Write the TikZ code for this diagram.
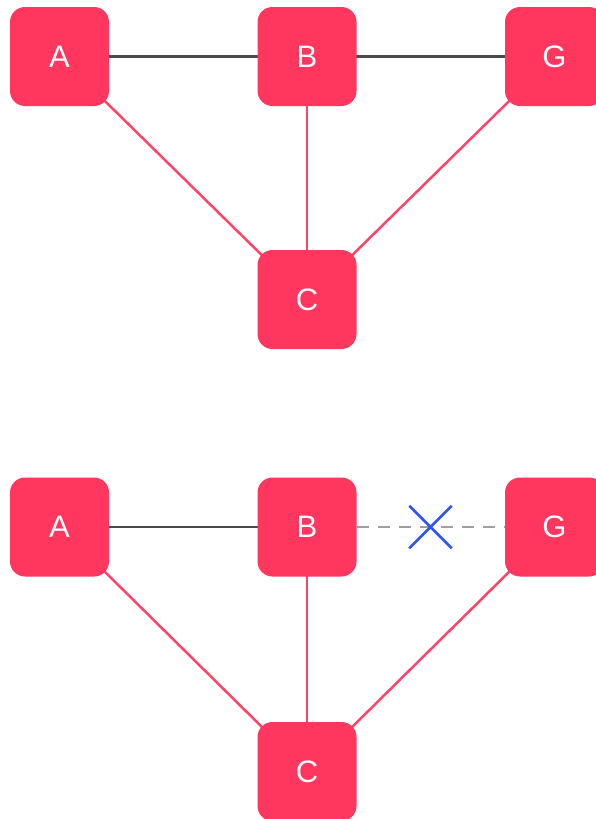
\documentclass[tikz,border=0pt]{standalone}
\usepackage{fontspec}
\setmainfont{Liberation Sans}
\usetikzlibrary{shapes.misc,backgrounds}
\definecolor{nodered}{HTML}{FF365E}
\definecolor{edgered}{HTML}{FF4468}
\definecolor{darkedge}{HTML}{4A4A4A}
\definecolor{dashgray}{HTML}{9E9E9E}
\definecolor{xblue}{HTML}{2F55F0}
\begin{document}
\begin{tikzpicture}[x=1pt,y=1pt,
  vertex/.style={fill=nodered, rounded corners=15pt, minimum width=99pt, minimum height=99pt, inner sep=0pt,
    text=white, font=\fontsize{31}{31}\selectfont},
  redge/.style={draw=edgered, line width=2.5pt},
  kedge/.style={draw=darkedge, line width=2.8pt},
  dedge/.style={draw=dashgray, line width=2.5pt, dash pattern=on 12pt off 9pt},
  crossmark/.style={cross out, draw=xblue, line width=2.5pt, minimum size=40pt, inner sep=0pt}]
\useasboundingbox (0,0) rectangle (596,-819);
\clip (0,0) rectangle (596,-819);
% top graph
\node[vertex] (A1) at (59.5,-56.5) {A};
\node[vertex] (B1) at (307,-56.5) {B};
\node[vertex] (G1) at (554.5,-56.5) {G};
\node[vertex] (C1) at (307,-299.5) {C};
% bottom graph
\node[vertex] (A2) at (59.5,-527) {A};
\node[vertex] (B2) at (307,-527) {B};
\node[vertex] (G2) at (554.5,-527) {G};
\node[vertex] (C2) at (307,-771.5) {C};
\node[crossmark] (X) at (430.5,-527) {};
\begin{pgfonlayer}{background}
\path[kedge] (A1.center) -- (B1.center);
\path[kedge] (B1.center) -- (G1.center);
\path[redge] (A1.center) -- (C1.center);
\path[redge] (B1.center) -- (C1.center);
\path[redge] (G1.center) -- (C1.center);
\path[kedge] (A2.center) -- (B2.center);
\path[dedge] (B2.east) -- (G2.west);
\path[redge] (A2.center) -- (C2.center);
\path[redge] (B2.center) -- (C2.center);
\path[redge] (G2.center) -- (C2.center);
\end{pgfonlayer}
\end{tikzpicture}
\end{document}
